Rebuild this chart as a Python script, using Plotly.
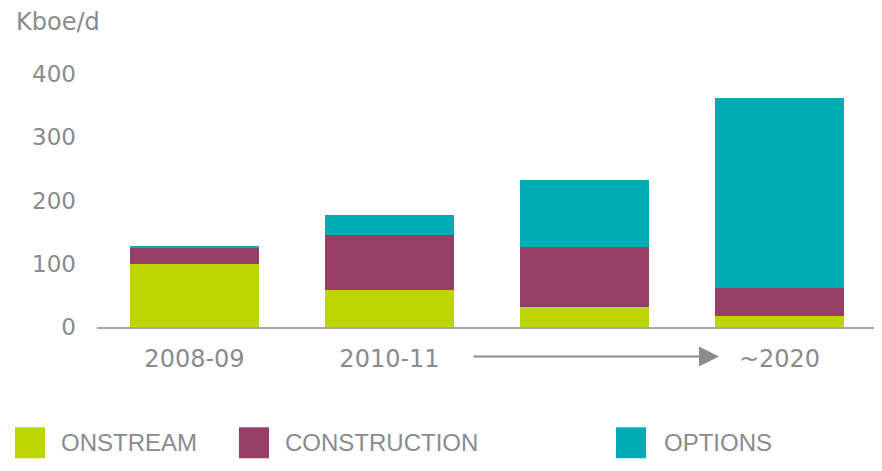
import plotly.graph_objects as go

# ---- data ----
periods = ["2008-09", "2010-11", "", "~2020"]
onstream = [100, 58, 31, 17]
construction = [25, 87, 96, 44]
options = [3, 32, 106, 301]
series_names = ["ONSTREAM", "CONSTRUCTION", "OPTIONS"]
y_ticks = [0, 100, 200, 300, 400]
unit_label = "Kboe/d"

colors = ["#BDD500", "#963E66", "#00ADB5"]
text_color = "#8A8B8D"

W, H = 882, 471
OFF = 8  # page body margin offset in screenshot
# target plot-area edges in screenshot pixels
PL, PR, PT, PB = 97, 877, 74, 327.5
ML, MT = PL - OFF, PT - OFF
MR = W - (PR - OFF)
MB = H - (PB - OFF)
PW, PH = PR - PL, PB - PT


def px_x(px):
    return (px - PL) / PW


def px_y(py):
    return (PB - py) / PH


def px_to_xdata(px):
    return (px - PL) / PW * 4 - 0.5


x_idx = list(range(len(periods)))
fig = go.Figure()
for name, vals, col in zip(series_names, [onstream, construction, options], colors):
    fig.add_trace(go.Bar(x=x_idx, y=vals, name=name, marker=dict(color=col, line=dict(width=0)),
                         showlegend=False))

fig.update_layout(
    width=W, height=H,
    margin=dict(l=ML, r=MR, t=MT, b=MB),
    barmode="stack", bargap=0.34,
    plot_bgcolor="white", paper_bgcolor="white",
    font=dict(family="DejaVu Sans", color=text_color, size=24),
)
fig.update_xaxes(range=[-0.5, 3.5], tickvals=x_idx, ticktext=periods, showgrid=False,
                 showline=True, linecolor="#A6A6A8", linewidth=2, ticks="",
                 tickfont=dict(size=24, color=text_color), ticklabelstandoff=9, zeroline=False)
fig.update_yaxes(range=[0, 400], tickvals=y_ticks, showgrid=False, zeroline=False, showline=False,
                 ticks="", tickfont=dict(size=23, color=text_color), ticklabelstandoff=20)

# unit label
fig.add_annotation(text=unit_label, xref="paper", yref="paper", x=px_x(14), y=px_y(21.5),
                   xanchor="left", yanchor="middle", showarrow=False,
                   font=dict(size=24, color=text_color, family="DejaVu Sans"))

# arrow between 2010-11 and ~2020
fig.add_annotation(text="", xref="x", yref="paper", x=px_to_xdata(719), y=px_y(357),
                   axref="x", ayref="pixel", ax=px_to_xdata(472), ay=0,
                   showarrow=True, arrowhead=2, arrowwidth=2, arrowsize=2, arrowcolor="#8A8B8D")

# manual legend
sw_left = [15, 239, 616]
txt_left = [59, 283, 662]
for name, col, sx, tx in zip(series_names, colors, sw_left, txt_left):
    fig.add_shape(type="rect", xref="paper", yref="paper", x0=px_x(sx), x1=px_x(sx + 30),
                  y0=px_y(459), y1=px_y(428), fillcolor=col, line=dict(width=0))
    fig.add_annotation(text=name, xref="paper", yref="paper", x=px_x(tx), y=px_y(443),
                       xanchor="left", yanchor="middle", showarrow=False,
                       font=dict(size=24, color=text_color, family="Liberation Sans"))

fig.write_html("out.html")
